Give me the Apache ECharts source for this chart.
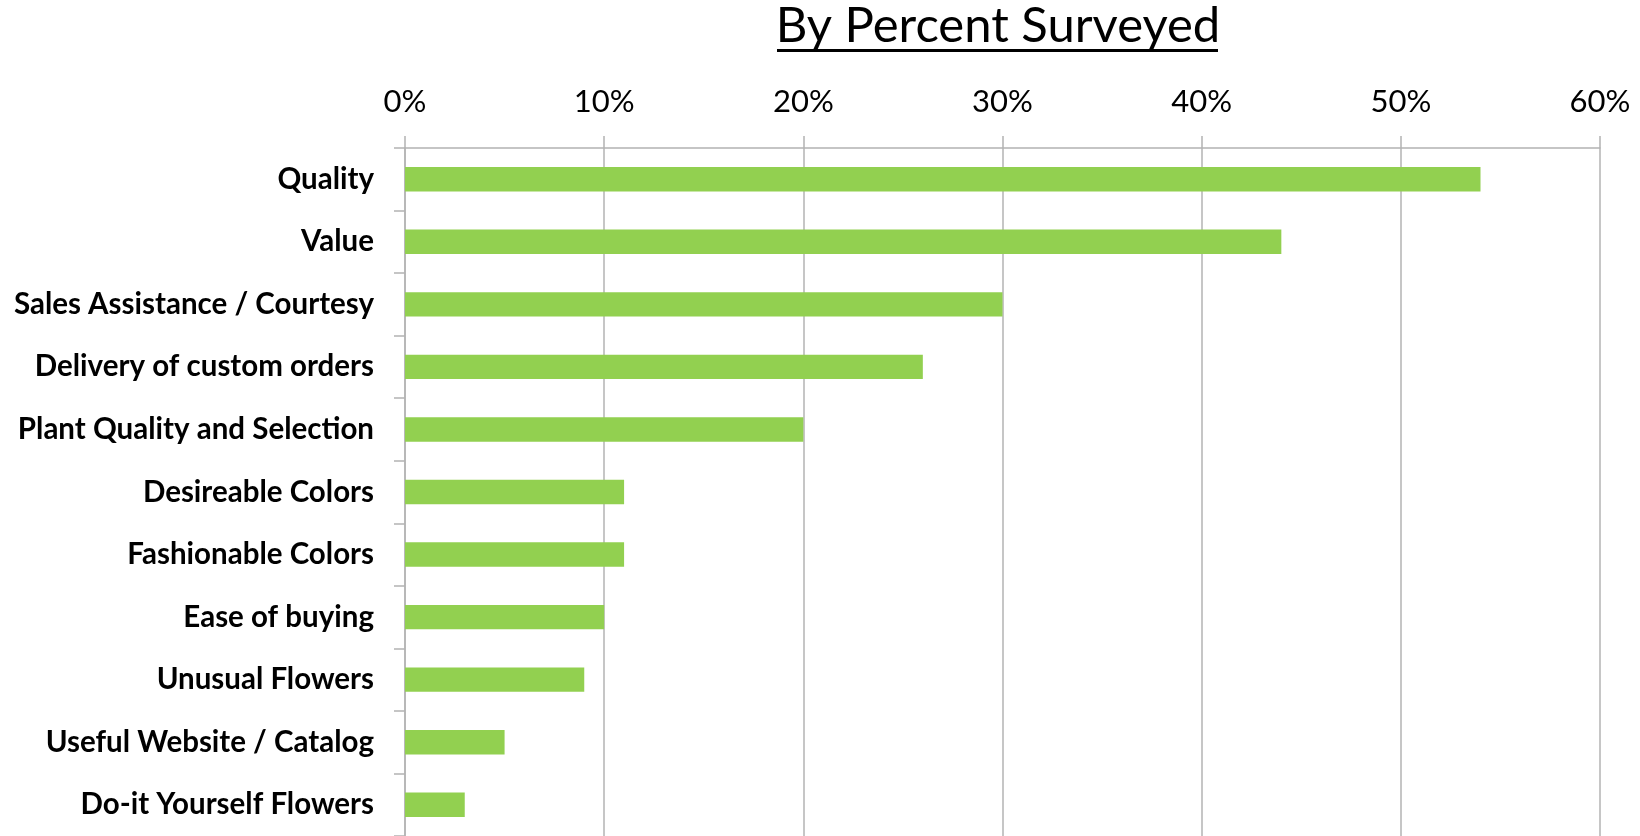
<!DOCTYPE html>
<html>
<head>
<meta charset="utf-8">
<script src="https://cdn.jsdelivr.net/npm/echarts@6/dist/echarts.min.js"></script>
<style>
  html, body { margin: 0; padding: 0; background: #fff; }
  #chart { width: 1640px; height: 836px; }
</style>
</head>
<body>
<div id="chart"></div>
<script>
// Survey factors, listed top to bottom
const categories = [
  'Quality',
  'Value',
  'Sales Assistance / Courtesy',
  'Delivery of custom orders',
  'Plant Quality and Selection',
  'Desireable Colors',
  'Fashionable Colors',
  'Ease of buying',
  'Unusual Flowers',
  'Useful Website / Catalog',
  'Do-it Yourself Flowers'
];
// Share of respondents (%)
const percents = [54, 44, 30, 26, 20, 11, 11, 10, 9, 5, 3];
const titleText = 'By Percent Surveyed';

const chart = echarts.init(document.getElementById('chart'), null, { renderer: 'canvas' });
const gridColor = '#b3b3b3';

chart.setOption({
  animation: false,
  backgroundColor: '#ffffff',
  grid: { left: 405, right: 40, top: 148, bottom: -3, containLabel: false },
  graphic: [
    {
      type: 'text',
      x: 998,
      y: 26,
      style: {
        text: titleText,
        textAlign: 'center',
        textVerticalAlign: 'middle',
        fontFamily: 'Lato, "Open Sans", sans-serif',
        fontSize: 49,
        fill: '#000'
      }
    },
    {
      // underline beneath the title
      type: 'line',
      shape: { x1: 777, y1: 50.5, x2: 1218, y2: 50.5 },
      style: { stroke: '#000', lineWidth: 3 }
    }
  ],
  xAxis: {
    type: 'value',
    position: 'top',
    min: 0,
    max: 60,
    interval: 10,
    axisLine: { show: true, lineStyle: { color: gridColor, width: 1.5 } },
    axisTick: { show: true, length: 12, inside: false, lineStyle: { color: gridColor, width: 1.5 } },
    splitLine: { show: true, lineStyle: { color: gridColor, width: 1.5 } },
    axisLabel: {
      formatter: v => v + '%',
      margin: 31,
      fontFamily: 'Lato, "Open Sans", sans-serif',
      fontSize: 31,
      color: '#000'
    }
  },
  yAxis: {
    type: 'category',
    inverse: true,
    data: categories,
    axisLine: { show: true, lineStyle: { color: gridColor, width: 1.5 } },
    axisTick: { show: true, length: 11, lineStyle: { color: gridColor, width: 1.5 } },
    axisLabel: {
      margin: 31,
      fontFamily: 'Lato, "Open Sans", sans-serif',
      fontWeight: 'bold',
      fontSize: 29.5,
      color: '#000'
    }
  },
  series: [{
    type: 'bar',
    data: percents,
    barWidth: '39%',
    itemStyle: { color: '#92d050' }
  }]
});
</script>
</body>
</html>
